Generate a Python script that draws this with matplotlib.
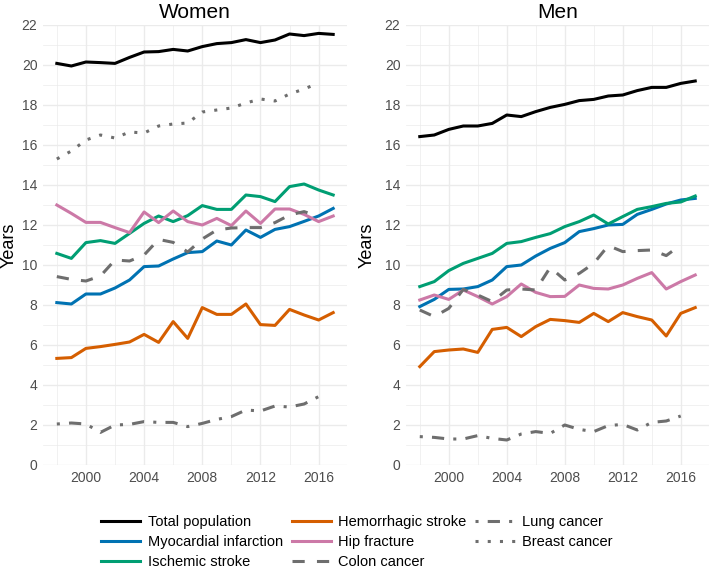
import matplotlib.pyplot as plt
from matplotlib.ticker import MultipleLocator
import numpy as np

plt.rcParams['font.family'] = ['Liberation Sans', 'DejaVu Sans']

years = np.arange(1998, 2018)
years_c = np.arange(1998, 2017)

# women
total_w = [20.08, 19.95, 20.15, 20.12, 20.08, 20.38, 20.65, 20.67, 20.78, 20.7,
           20.92, 21.07, 21.12, 21.27, 21.12, 21.25, 21.55, 21.47, 21.58, 21.53]
mi_w = [8.12, 8.05, 8.55, 8.55, 8.85, 9.25, 9.92, 9.95, 10.3, 10.62,
        10.67, 11.2, 11.0, 11.75, 11.38, 11.78, 11.92, 12.18, 12.45, 12.83]
isch_w = [10.58, 10.33, 11.12, 11.22, 11.08, 11.58, 12.08, 12.45, 12.17, 12.47,
          12.97, 12.78, 12.78, 13.5, 13.42, 13.17, 13.92, 14.05, 13.75, 13.5]
hem_w = [5.33, 5.37, 5.83, 5.92, 6.03, 6.15, 6.53, 6.13, 7.17, 6.33,
         7.87, 7.53, 7.53, 8.05, 7.02, 6.98, 7.78, 7.5, 7.25, 7.62]
hip_w = [13.0, 12.58, 12.13, 12.13, 11.87, 11.62, 12.65, 12.12, 12.7, 12.17,
         12.0, 12.33, 11.97, 12.7, 12.08, 12.8, 12.8, 12.53, 12.17, 12.45]
colon_w = [9.42, 9.28, 9.2, 9.45, 10.25, 10.2, 10.5, 11.28, 11.13, 10.65,
           11.3, 11.75, 11.85, 11.87, 11.87, 12.12, 12.5, 12.67, 12.42]
lung_w = [2.05, 2.1, 2.05, 1.63, 2.0, 2.03, 2.17, 2.13, 2.13, 1.92,
          2.08, 2.28, 2.42, 2.75, 2.7, 2.95, 2.9, 3.05, 3.42]
breast_w = [15.3, 15.7, 16.25, 16.5, 16.35, 16.65, 16.6, 16.95, 17.05, 17.1,
            17.65, 17.75, 17.85, 18.1, 18.3, 18.2, 18.55, 18.8, 19.1]

# men
total_m = [16.42, 16.5, 16.78, 16.95, 16.95, 17.08, 17.5, 17.42, 17.67, 17.88,
           18.03, 18.22, 18.28, 18.45, 18.5, 18.72, 18.88, 18.88, 19.08, 19.2]
mi_m = [7.92, 8.28, 8.78, 8.8, 8.92, 9.25, 9.92, 10.0, 10.45, 10.83,
        11.12, 11.67, 11.82, 12.0, 12.03, 12.53, 12.78, 13.05, 13.25, 13.33]
isch_m = [8.92, 9.17, 9.72, 10.08, 10.33, 10.58, 11.08, 11.17, 11.38, 11.57,
          11.92, 12.17, 12.5, 12.05, 12.42, 12.78, 12.92, 13.08, 13.15, 13.45]
hem_m = [4.92, 5.67, 5.75, 5.8, 5.63, 6.78, 6.88, 6.42, 6.92, 7.28,
         7.22, 7.13, 7.58, 7.17, 7.62, 7.42, 7.25, 6.45, 7.58, 7.87]
hip_m = [8.25, 8.5, 8.28, 8.75, 8.42, 8.05, 8.42, 9.05, 8.63, 8.42,
         8.43, 9.0, 8.83, 8.8, 9.0, 9.33, 9.62, 8.8, 9.17, 9.5]
colon_m = [7.75, 7.42, 7.83, 8.78, 8.5, 8.17, 8.75, 8.8, 8.75, 9.88,
           9.25, 9.58, 10.08, 10.97, 10.67, 10.72, 10.75, 10.47, 11.0]
lung_m = [1.42, 1.38, 1.3, 1.3, 1.47, 1.33, 1.25, 1.55, 1.67, 1.58,
          2.0, 1.78, 1.67, 1.97, 2.03, 1.75, 2.13, 2.2, 2.45]

labels = ['Total population', 'Myocardial infarction', 'Ischemic stroke',
          'Hemorrhagic stroke', 'Hip fracture', 'Colon cancer',
          'Lung cancer', 'Breast cancer']
colors = ['black', '#0072B2', '#009E73', '#D55E00', '#CC79A7',
          '#6E6E6E', '#6E6E6E', '#6E6E6E']
styles = ['-', '-', '-', '-', '-', (0, (4, 4)), (0, (1, 3, 4, 3)), (0, (1, 3))]

women = [total_w, mi_w, isch_w, hem_w, hip_w, colon_w, lung_w, breast_w]
men = [total_m, mi_m, isch_m, hem_m, hip_m, colon_m, lung_m, None]

W, H = 709, 570
fig = plt.figure(figsize=(W / 100, H / 100), dpi=100)
ax_w = fig.add_axes([43 / W, 1 - 465 / H, 304 / W, 440 / H])
ax_m = fig.add_axes([406 / W, 1 - 465 / H, 303 / W, 440 / H])

for ax, data, title, lx in [(ax_w, women, 'Women', -0.085), (ax_m, men, 'Men', -0.100)]:
    for vals, lab, col, ls in zip(data, labels, colors, styles):
        if vals is None:
            continue
        x = years if len(vals) == len(years) else years_c
        ax.plot(x, vals, color=col, linestyle=ls, linewidth=2.2, label=lab)
    ax.set_xlim(1997.05, 2017.95)
    ax.set_ylim(0, 22)
    ax.xaxis.set_minor_locator(MultipleLocator(2))
    ax.set_xticks(np.arange(2000, 2017, 4))
    ax.yaxis.set_major_locator(MultipleLocator(2))
    ax.yaxis.set_minor_locator(MultipleLocator(1))
    ax.grid(which='major', color='#EBEBEB', linewidth=1.0)
    ax.grid(which='minor', color='#EBEBEB', linewidth=0.5)
    ax.set_axisbelow(True)
    for s in ax.spines.values():
        s.set_visible(False)
    ax.tick_params(which='both', length=0, labelsize=10, colors='#4D4D4D', pad=4)
    ax.set_title(title, fontsize=15, pad=5)
    ax.set_ylabel('Years', fontsize=13)
    ax.yaxis.set_label_coords(lx, 0.5)

h, l = ax_w.get_legend_handles_labels()
fig.legend(h, l, ncol=3, loc='upper left', bbox_to_anchor=(101 / W, 1 - 515 / H),
           frameon=False, fontsize=10.5, handlelength=2.7, handletextpad=0.5,
           columnspacing=0.6, labelspacing=0.4, borderpad=0, borderaxespad=0)

fig.savefig('out.png', dpi=100)
